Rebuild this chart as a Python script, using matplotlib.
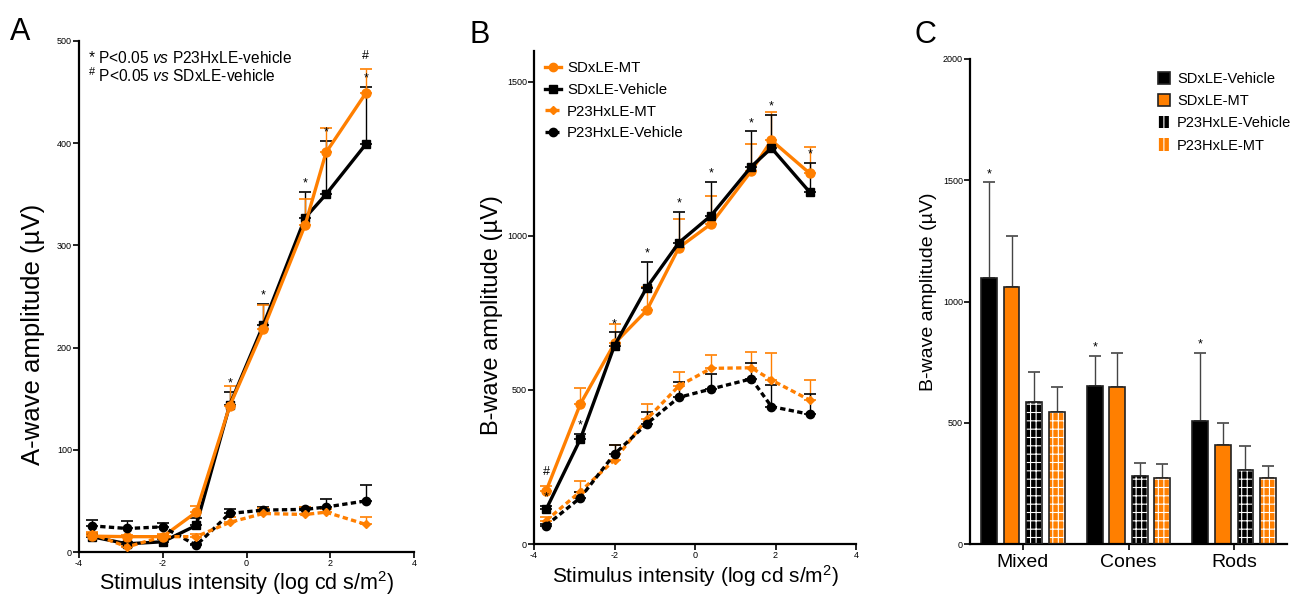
import numpy as np
import matplotlib
matplotlib.use("Agg")
import matplotlib.pyplot as plt
from matplotlib.lines import Line2D
from matplotlib.patches import Patch

plt.rcParams['font.family'] = ['Liberation Sans', 'DejaVu Sans']
plt.rcParams['mathtext.fontset'] = 'custom'
plt.rcParams['mathtext.rm'] = 'Liberation Sans'
plt.rcParams['mathtext.it'] = 'Liberation Sans:italic'
plt.rcParams['hatch.linewidth'] = 0.8
plt.rcParams['axes.unicode_minus'] = False

ORANGE = '#FF7F00'

# ---------------- data ----------------
stim = [-3.7, -2.85, -2.0, -1.2, -0.4, 0.4, 1.4, 1.9, 2.85]

# Panel A: a-wave amplitude (uV) and upper SEM
a_sd_veh = [15, 8, 10, 26, 144, 222, 327, 350, 399]
a_sd_veh_err = [3, 2, 3, 7, 13, 21, 25, 52, 56]
a_sd_mt = [15.5, 15, 15, 39, 143, 218, 320, 391, 449]
a_sd_mt_err = [3, 2, 2, 6, 19, 24, 25, 24, 24]
a_p23_veh = [25.6, 23, 24.6, 6.6, 37.7, 41, 41.7, 44, 50]
a_p23_veh_err = [5.5, 7.5, 4, 1, 4, 2.7, 2.6, 7.5, 15.6]
a_p23_mt = [18, 5, 15, 15, 29, 37.7, 36.7, 39, 27]
a_p23_mt_err = [2, 1, 3, 2.5, 5, 5.3, 7.3, 3, 7]
a_star_idx = [4, 5, 6, 7, 8]
a_hash_idx = [8]

# Panel B: b-wave amplitude (uV) and upper SEM
b_sd_veh = [112, 340, 644, 832, 978, 1066, 1225, 1285, 1142]
b_sd_veh_err = [12, 17, 43, 83, 101, 110, 114, 108, 94]
b_sd_mt = [172, 454, 651, 758, 962, 1039, 1211, 1310, 1203]
b_sd_mt_err = [17, 51, 63, 75, 92, 89, 88, 92, 84]
b_p23_veh = [60, 150, 292, 390, 476, 503, 536, 446, 421]
b_p23_veh_err = [6, 20, 29, 40, 51, 48, 51, 70, 66]
b_p23_mt = [76, 170, 273, 405, 513, 570, 572, 532, 467]
b_p23_mt_err = [11, 35, 48, 49, 46, 44, 52, 87, 65]
b_star_idx = [0, 1, 2, 3, 4, 5, 6, 7, 8]
b_hash_idx = [0]

# Panel C: b-wave by condition
conditions = ['Mixed', 'Cones', 'Rods']
c_groups = ['SDxLE-Vehicle', 'SDxLE-MT', 'P23HxLE-Vehicle', 'P23HxLE-MT']
c_values = {
    'SDxLE-Vehicle': [1098, 653, 506],
    'SDxLE-MT': [1059, 647, 410],
    'P23HxLE-Vehicle': [585, 281, 305],
    'P23HxLE-MT': [544, 271, 272],
}
c_errors = {
    'SDxLE-Vehicle': [393, 124, 281],
    'SDxLE-MT': [212, 140, 88],
    'P23HxLE-Vehicle': [126, 55, 99],
    'P23HxLE-MT': [105, 60, 51],
}
c_star_idx = [0, 1, 2]

# ---------------- figure ----------------
fig = plt.figure(figsize=(13.01, 5.96), dpi=100)
axA = fig.add_axes([79/1301, 44/596, 335/1301, 511/596])
axB = fig.add_axes([534/1301, 52/596, 322/1301, 493/596])
axC = fig.add_axes([970/1301, 52/596, 317/1301, 485/596])


def style(ax):
    for s in ['top', 'right']:
        ax.spines[s].set_visible(False)
    for s in ['left', 'bottom']:
        ax.spines[s].set_linewidth(1.6)
    ax.tick_params(labelsize=6.5, width=1.2, length=4, pad=1)


def series(ax, y, err, color, ls, marker, ms, label):
    ax.errorbar(stim, y, yerr=[np.zeros(len(err)), err], fmt='none',
                ecolor=color, elinewidth=1.0, capsize=4, capthick=1.2, zorder=2)
    ax.plot(stim, y, color=color, ls=ls, lw=2.4, marker=marker, ms=ms,
            label=label, zorder=3)


DASH = (0, (1.6, 1.0))

# Panel A
style(axA)
series(axA, a_sd_veh, a_sd_veh_err, 'black', '-', 's', 6, 'SDxLE-Vehicle')
series(axA, a_sd_mt, a_sd_mt_err, ORANGE, '-', 'o', 6.5, 'SDxLE-MT')
series(axA, a_p23_veh, a_p23_veh_err, 'black', DASH, 'o', 6, 'P23HxLE-Vehicle')
series(axA, a_p23_mt, a_p23_mt_err, ORANGE, DASH, 'D', 4.5, 'P23HxLE-MT')
axA.set_xlim(-4, 4)
axA.set_ylim(0, 500)
axA.set_xticks([-4, -2, 0, 2, 4])
axA.set_yticks([0, 100, 200, 300, 400, 500])
axA.set_ylabel('A-wave amplitude (\u00b5V)', fontsize=18.5)
axA.yaxis.set_label_coords(-0.10, 0.425)
axA.set_xlabel('Stimulus intensity (log cd s/m$^2$)', fontsize=15.5, labelpad=1)
for i in a_star_idx:
    top = a_sd_veh[i] + a_sd_veh_err[i]
    axA.annotate('*', (stim[i], top), xytext=(0, 6), textcoords='offset points',
                 ha='center', va='center', fontsize=9)
for i in a_hash_idx:
    top = a_sd_veh[i] + a_sd_veh_err[i]
    axA.annotate('#', (stim[i], top), xytext=(0, 22), textcoords='offset points',
                 ha='center', va='center', fontsize=9)
axA.text(0.027, 0.957, r'* P<0.05 $\it{vs}$ P23HxLE-vehicle', transform=axA.transAxes,
         fontsize=11.2, va='baseline', ha='left')
axA.text(0.027, 0.920, r'$^{\#}$ P<0.05 $\it{vs}$ SDxLE-vehicle', transform=axA.transAxes,
         fontsize=11.2, va='baseline', ha='left')

# Panel B
style(axB)
series(axB, b_sd_mt, b_sd_mt_err, ORANGE, '-', 'o', 6.5, 'SDxLE-MT')
series(axB, b_sd_veh, b_sd_veh_err, 'black', '-', 's', 6, 'SDxLE-Vehicle')
series(axB, b_p23_mt, b_p23_mt_err, ORANGE, DASH, 'D', 4.5, 'P23HxLE-MT')
series(axB, b_p23_veh, b_p23_veh_err, 'black', DASH, 'o', 6, 'P23HxLE-Vehicle')
axB.set_xlim(-4, 4)
axB.set_ylim(0, 1600)
axB.set_xticks([-4, -2, 0, 2, 4])
axB.set_yticks([0, 500, 1000, 1500])
axB.set_ylabel('B-wave amplitude (\u00b5V)', fontsize=17)
axB.yaxis.set_label_coords(-0.095, 0.465)
axB.set_xlabel('Stimulus intensity (log cd s/m$^2$)', fontsize=15, labelpad=2)
for i in b_star_idx:
    top = b_sd_veh[i] + b_sd_veh_err[i]
    axB.annotate('*', (stim[i], top), xytext=(0, 6), textcoords='offset points',
                 ha='center', va='center', fontsize=9)
for i in b_hash_idx:
    top = b_sd_veh[i] + b_sd_veh_err[i]
    axB.annotate('#', (stim[i], top), xytext=(0, 24), textcoords='offset points',
                 ha='center', va='center', fontsize=9)
handlesB = [
    Line2D([], [], color=ORANGE, ls='-', lw=2.4, marker='o', ms=6),
    Line2D([], [], color='black', ls='-', lw=2.4, marker='s', ms=6),
    Line2D([], [], color=ORANGE, ls=DASH, lw=2.4, marker='D', ms=4.5),
    Line2D([], [], color='black', ls=DASH, lw=2.4, marker='o', ms=6),
]
axB.legend(handlesB, ['SDxLE-MT', 'SDxLE-Vehicle', 'P23HxLE-MT', 'P23HxLE-Vehicle'],
           loc='upper left', bbox_to_anchor=(0.0, 1.0), frameon=False, fontsize=10.8,
           handlelength=1.1, handletextpad=0.4, labelspacing=0.5, borderaxespad=0.3)

# Panel C
style(axC)
xc = np.arange(len(conditions))
width = 0.15
offsets = [-0.32, -0.107, 0.107, 0.32]
faces = ['black', ORANGE, 'black', ORANGE]
hatches = [None, None, '|||--', '|||--']
for g, off, fc, h in zip(c_groups, offsets, faces, hatches):
    vals = c_values[g]
    errs = c_errors[g]
    axC.errorbar(xc + off, vals, yerr=[np.zeros(3), errs], fmt='none',
                 ecolor='#444444', elinewidth=1.0, capsize=4, capthick=1.2, zorder=1)
    if h:
        axC.bar(xc + off, vals, width, color=fc, edgecolor='white', hatch=h,
                linewidth=0, zorder=2)
        axC.bar(xc + off, vals, width, facecolor='none', edgecolor='#222222',
                linewidth=1.2, zorder=3)
    else:
        axC.bar(xc + off, vals, width, color=fc, edgecolor='#222222',
                linewidth=1.2, zorder=2)
for i in c_star_idx:
    top = c_values['SDxLE-Vehicle'][i] + c_errors['SDxLE-Vehicle'][i]
    axC.annotate('*', (xc[i] + offsets[0], top), xytext=(0, 6),
                 textcoords='offset points', ha='center', va='center', fontsize=9)
axC.set_xlim(-0.5, 2.5)
axC.set_ylim(0, 2000)
axC.set_yticks([0, 500, 1000, 1500, 2000])
axC.set_xticks(xc)
axC.set_xticklabels(conditions, fontsize=14)
axC.tick_params(axis='x', labelsize=14, pad=3)
axC.set_ylabel('B-wave amplitude (\u00b5V)', fontsize=14)
axC.yaxis.set_label_coords(-0.105, 0.52)

handlesC = [
    Patch(facecolor='black', edgecolor='#222222', lw=1.2),
    Patch(facecolor=ORANGE, edgecolor='#222222', lw=1.2),
    Patch(facecolor='black', edgecolor='white', hatch='|||', lw=0),
    Patch(facecolor=ORANGE, edgecolor='white', hatch='|||', lw=0),
]
legC = axC.legend(handlesC, c_groups, loc='upper right', bbox_to_anchor=(1.055, 1.0),
                  frameon=False, fontsize=10.5, handlelength=0.8, handleheight=0.9,
                  handletextpad=0.5, labelspacing=0.55)

# panel letters
fig.text(10/1301, 1 - 40/596, 'A', fontsize=22)
fig.text(469/1301, 1 - 43/596, 'B', fontsize=22)
fig.text(914/1301, 1 - 43/596, 'C', fontsize=22)

fig.savefig('out.png', dpi=100)
